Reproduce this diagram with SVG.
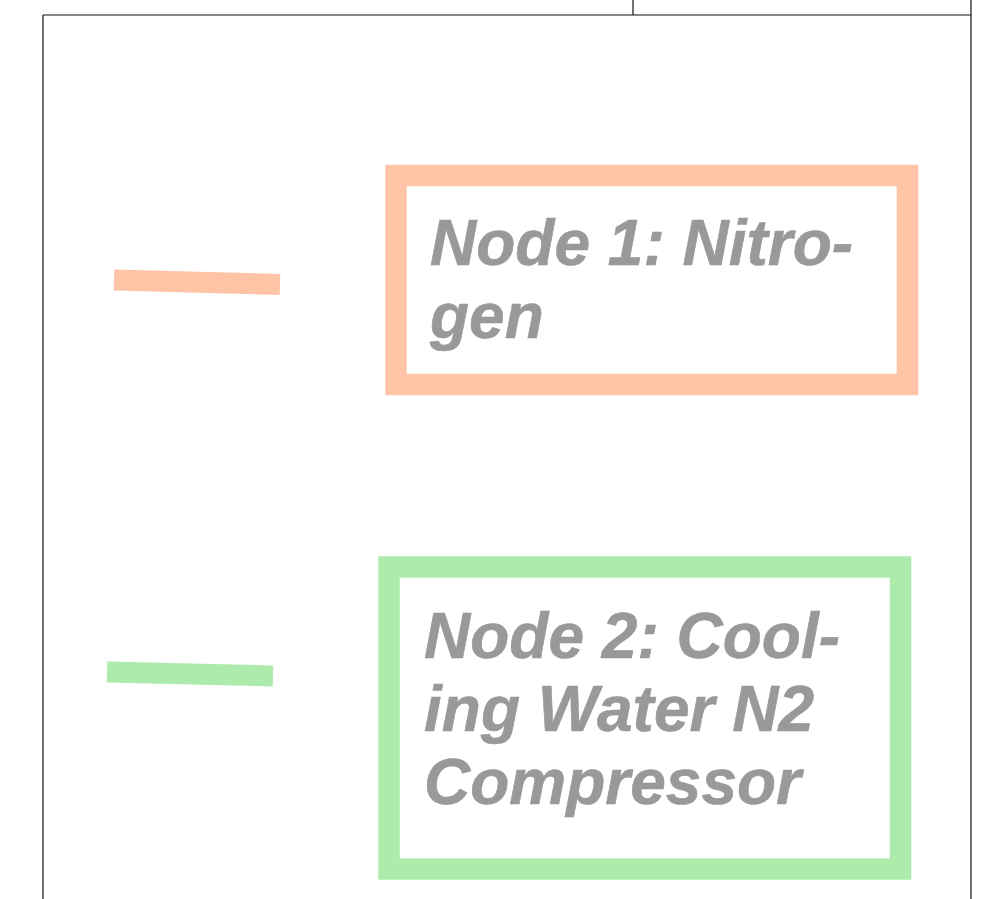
<svg xmlns="http://www.w3.org/2000/svg" width="986" height="899" viewBox="0 0 986 899">
<style>
.frame{stroke:#111;stroke-width:1.2;fill:none}
.lbl{font-family:"Liberation Sans",Arial,sans-serif;font-weight:bold;font-style:italic;font-size:64px;fill:#999999;stroke:#999999;stroke-width:0.6}
</style>
<rect width="986" height="899" fill="#fff"/>
<g id="frame">
<line class="frame" x1="43" y1="15" x2="971" y2="15"/>
<line class="frame" x1="43" y1="15" x2="43" y2="899"/>
<line class="frame" x1="971" y1="0" x2="971" y2="899"/>
<line class="frame" x1="633" y1="0" x2="633" y2="15"/>
</g>
<g id="connectors">
<line x1="114" y1="280" x2="280" y2="284.5" stroke="#FFC3A6" stroke-width="21"/>
<line x1="107" y1="672" x2="273" y2="676" stroke="#ADEBAD" stroke-width="21"/>
</g>
<g id="node1">
<rect x="396" y="175.5" width="511.5" height="209" fill="#fff" stroke="#FFC3A6" stroke-width="21.5"/>
<text class="lbl"><tspan x="430" y="265">Node 1: Nitro-</tspan><tspan x="430" y="338">gen</tspan></text>
</g>
<g id="node2">
<rect x="389" y="567" width="511.5" height="302" fill="#fff" stroke="#ADEBAD" stroke-width="21.5"/>
<text class="lbl"><tspan x="424" y="658">Node 2: Cool-</tspan><tspan x="424" y="731">ing Water N2</tspan><tspan x="424" y="804">Compressor</tspan></text>
</g>
</svg>
